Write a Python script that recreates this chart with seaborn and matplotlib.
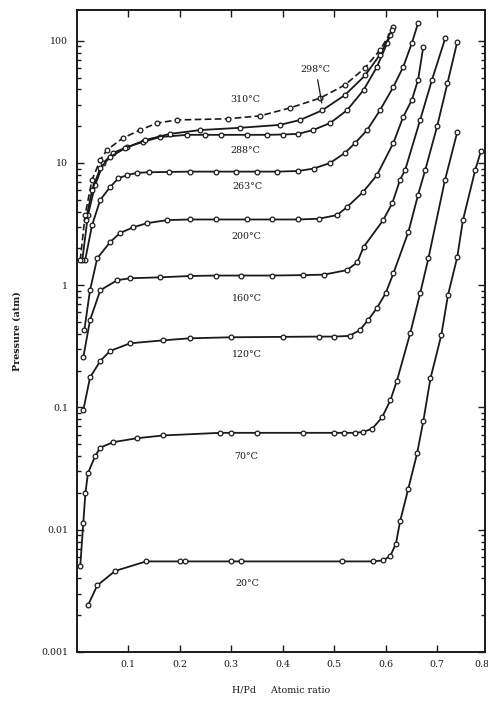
"""Pressure-composition isotherms of the Pd-H system, redrawn from a scanned figure.
Pressure (atm, log scale) against H/Pd atomic ratio, one curve per temperature."""
import matplotlib
matplotlib.use("Agg")
import matplotlib.pyplot as plt
import numpy as np
import pandas as pd
import seaborn as sns
from matplotlib.ticker import FixedLocator, LogLocator, NullFormatter

# values: H/Pd ratio and pressure (atm) per isotherm
x_20 = [0.022, 0.040, 0.075, 0.135, 0.200, 0.210, 0.300, 0.320, 0.515, 0.575, 0.595,
        0.609, 0.620, 0.628, 0.644, 0.661, 0.673, 0.687, 0.708, 0.721, 0.739, 0.750, 0.774, 0.785]
p_20 = [0.0024, 0.0035, 0.0046, 0.0055, 0.0055, 0.0055, 0.0055, 0.0055, 0.0055, 0.0055, 0.0056,
        0.0061, 0.0077, 0.0117, 0.0217, 0.042, 0.077, 0.173, 0.39, 0.83, 1.7, 3.4, 8.8, 12.5]

x_70 = [0.007, 0.013, 0.017, 0.022, 0.036, 0.046, 0.071, 0.117, 0.168, 0.279, 0.300, 0.350,
        0.440, 0.500, 0.520, 0.540, 0.556, 0.574, 0.593, 0.609, 0.622, 0.648, 0.667, 0.683,
        0.715, 0.739]
p_70 = [0.005, 0.0114, 0.0198, 0.029, 0.040, 0.047, 0.052, 0.056, 0.059, 0.062, 0.062, 0.062,
        0.062, 0.062, 0.062, 0.062, 0.063, 0.067, 0.083, 0.114, 0.166, 0.41, 0.86, 1.66,
        7.2, 17.9]

x_120 = [0.013, 0.026, 0.046, 0.065, 0.104, 0.168, 0.220, 0.300, 0.400, 0.470, 0.500, 0.530,
         0.550, 0.566, 0.583, 0.600, 0.615, 0.644, 0.663, 0.677, 0.700, 0.720, 0.739]
p_120 = [0.095, 0.176, 0.24, 0.29, 0.335, 0.354, 0.368, 0.375, 0.378, 0.38, 0.38, 0.385,
         0.43, 0.52, 0.65, 0.86, 1.25, 2.72, 5.5, 8.8, 20.0, 45.0, 98.0]

x_160 = [0.013, 0.026, 0.046, 0.079, 0.104, 0.162, 0.220, 0.270, 0.320, 0.380, 0.440, 0.480,
         0.525, 0.545, 0.557, 0.595, 0.613, 0.628, 0.638, 0.667, 0.690, 0.716]
p_160 = [0.257, 0.517, 0.91, 1.10, 1.14, 1.16, 1.19, 1.2, 1.2, 1.2, 1.21, 1.22,
         1.33, 1.54, 2.05, 3.4, 4.7, 7.3, 8.8, 22.5, 48.0, 106.0]

x_200 = [0.015, 0.026, 0.040, 0.065, 0.084, 0.110, 0.137, 0.176, 0.220, 0.270, 0.330, 0.380,
         0.430, 0.470, 0.506, 0.525, 0.556, 0.583, 0.615, 0.634, 0.651, 0.663, 0.673]
p_200 = [0.43, 0.91, 1.66, 2.25, 2.67, 2.98, 3.22, 3.41, 3.45, 3.45, 3.45, 3.45,
         3.45, 3.5, 3.75, 4.36, 5.78, 7.95, 14.6, 23.8, 32.9, 48.0, 89.0]

x_263 = [0.0165, 0.030, 0.046, 0.065, 0.081, 0.098, 0.117, 0.140, 0.180, 0.220, 0.270, 0.310,
         0.350, 0.390, 0.430, 0.460, 0.492, 0.521, 0.541, 0.564, 0.589, 0.615, 0.634, 0.651, 0.663]
p_263 = [1.6, 3.1, 5.0, 6.35, 7.5, 7.95, 8.3, 8.4, 8.45, 8.5, 8.5, 8.5,
         8.5, 8.5, 8.6, 9.0, 10.0, 12.1, 14.6, 18.6, 27.0, 42.0, 61.0, 96.0, 140.0]

x_288 = [0.011, 0.022, 0.036, 0.052, 0.071, 0.098, 0.129, 0.162, 0.215, 0.250, 0.280, 0.330,
         0.370, 0.400, 0.430, 0.459, 0.492, 0.525, 0.557, 0.583, 0.603, 0.615]
p_288 = [1.6, 3.75, 6.6, 10.0, 12.1, 13.5, 14.9, 16.3, 17.0, 17.0, 17.0, 17.0,
         17.0, 17.1, 17.3, 18.6, 21.2, 27.0, 39.5, 61.0, 96.0, 130.0]

x_298 = [0.018, 0.030, 0.046, 0.065, 0.094, 0.133, 0.181, 0.240, 0.317, 0.395, 0.434, 0.477,
         0.521, 0.560, 0.589, 0.609]
p_298 = [3.4, 6.0, 9.1, 11.2, 13.2, 15.4, 17.3, 18.6, 19.4, 20.5, 22.5, 27.0,
         36.0, 52.0, 77.0, 112.0]

x_310 = [0.007, 0.0165, 0.030, 0.046, 0.059, 0.090, 0.123, 0.156, 0.195, 0.293, 0.356, 0.414,
         0.473, 0.521, 0.560, 0.589, 0.613]
p_310 = [1.6, 3.75, 7.3, 10.6, 12.8, 16.0, 18.6, 21.2, 22.5, 23.0, 24.3, 28.2,
         34.0, 43.5, 60.0, 84.0, 123.0]

# curve labels: text, x, p
label_text = ["310°C", "288°C", "263°C", "200°C", "160°C", "120°C", "70°C", "20°C"]
label_x = [0.327, 0.327, 0.332, 0.330, 0.330, 0.330, 0.330, 0.332]
label_p = [33.0, 12.6, 6.4, 2.5, 0.78, 0.27, 0.040, 0.0036]

x_ticks = [0.1, 0.2, 0.3, 0.4, 0.5, 0.6, 0.7]
x_ticklabels = ["0.1", "0.2", "0.3", "0.4", "0.5", "0.6", "0.7"]
y_ticks = [0.001, 0.01, 0.1, 1, 10, 100]
y_ticklabels = ["0.001", "0.01", "0.1", "1", "10", "100"]

INK = "#1a1a1a"


def long_table():
    curves = {
        "20°C": (x_20, p_20), "70°C": (x_70, p_70), "120°C": (x_120, p_120),
        "160°C": (x_160, p_160), "200°C": (x_200, p_200), "263°C": (x_263, p_263),
        "288°C": (x_288, p_288), "298°C": (x_298, p_298), "310°C": (x_310, p_310),
    }
    frames = [pd.DataFrame({"ratio": xs, "pressure": ps, "T": name})
              for name, (xs, ps) in curves.items()]
    return pd.concat(frames, ignore_index=True)


def main():
    sns.set_theme(style="ticks")
    plt.rcParams["font.family"] = ["DejaVu Serif"]
    df = long_table()

    fig = plt.figure(figsize=(4.88, 7.04), dpi=100)
    ax = fig.add_axes([0.157, 0.074, 0.837, 0.912])

    # 1. isotherms (310 C drawn dashed, like the scan)
    mk = dict(marker="o", markersize=3.4, markerfacecolor="white",
              markeredgecolor=INK, markeredgewidth=0.9)
    solid = df[df["T"] != "310°C"]
    sns.lineplot(data=solid, x="ratio", y="pressure", units="T", estimator=None, sort=False,
                 color=INK, lw=1.3, ax=ax, legend=False, **mk)
    dashed = df[df["T"] == "310°C"]
    sns.lineplot(data=dashed, x="ratio", y="pressure", estimator=None, sort=False,
                 color=INK, lw=1.2, ls=(0, (4, 2)), ax=ax, legend=False, **mk)

    # 2. labels
    for t, lx, lp in zip(label_text, label_x, label_p):
        ax.text(lx, lp, t, fontsize=6.8, ha="center", va="center", color=INK)
    ax.text(0.463, 58, "298°C", fontsize=6.8, ha="center", va="center", color=INK)
    ax.plot([0.468, 0.476], [48, 31], color=INK, lw=0.9)

    # 3. axes
    ax.set_yscale("log")
    ax.set_xlim(0, 0.793)
    ax.set_ylim(0.001, 179)
    ax.xaxis.set_major_locator(FixedLocator(x_ticks))
    ax.set_xticklabels(x_ticklabels)
    ax.yaxis.set_major_locator(FixedLocator(y_ticks))
    ax.set_yticklabels(y_ticklabels)
    ax.yaxis.set_minor_locator(LogLocator(base=10, subs=np.arange(2, 10)))
    ax.yaxis.set_minor_formatter(NullFormatter())
    ax.tick_params(which="both", direction="in", top=True, right=True, labelsize=6.8,
                   colors=INK, width=1.0)
    ax.tick_params(which="major", length=5, pad=6)
    ax.tick_params(which="minor", length=3)
    # the 0.8 label sits just past the right spine; nudged left so it stays on the page
    ax.annotate("0.8", xy=(0.8, 0), xycoords=("data", "axes fraction"), xytext=(-5, -6),
                textcoords="offset points", ha="center", va="top", fontsize=6.8,
                color=INK, annotation_clip=False)
    for s in ax.spines.values():
        s.set_linewidth(1.4)
        s.set_color(INK)
    ax.set_xlabel("H/Pd     Atomic ratio", fontsize=6.8, labelpad=12, color=INK)
    ax.set_ylabel("Pressure (atm)", fontsize=6.8, labelpad=14, color=INK, fontweight="bold")

    fig.savefig("out.png", dpi=100, facecolor="white")
    plt.close(fig)


if __name__ == "__main__":
    main()
